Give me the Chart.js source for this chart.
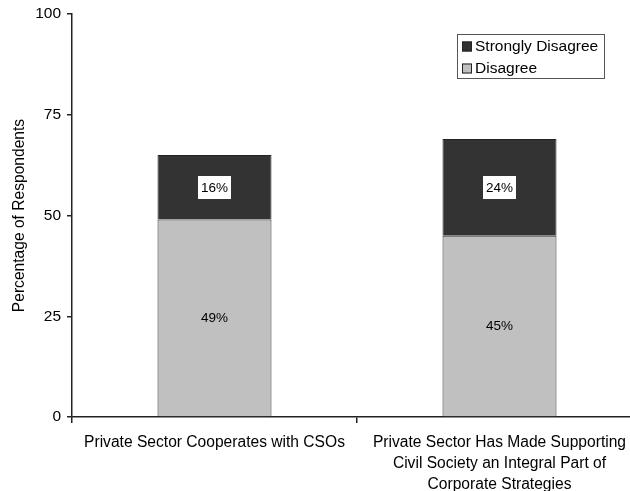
<!DOCTYPE html>
<html>
<head>
<meta charset="utf-8">
<script src="https://cdn.jsdelivr.net/npm/chart.js@4.4.1/dist/chart.umd.min.js"></script>
<style>
  html, body { margin: 0; padding: 0; background: #fff; overflow: hidden; }
  #wrap { width: 630px; height: 491px; overflow: hidden; }
  canvas { display: block; }
</style>
</head>
<body>
<div id="wrap"><canvas id="c" width="650" height="491"></canvas></div>
<script>
const categories = [
  ['Private Sector Cooperates with CSOs'],
  ['Private Sector Has Made Supporting', 'Civil Society an Integral Part of', 'Corporate Strategies']
];
const disagree = [49, 45];
const stronglyDisagree = [16, 24];
const yTicks = [0, 25, 50, 75, 100];

const FONT = "'Liberation Sans', Arial, Helvetica, sans-serif";

// Percent labels inside each stacked segment; the upper segment gets a white box
const segmentLabels = {
  id: 'segmentLabels',
  afterDatasetsDraw(chart) {
    const ctx = chart.ctx;
    ctx.save();
    ctx.font = '13.5px ' + FONT;
    ctx.textAlign = 'center';
    ctx.textBaseline = 'middle';
    chart.data.datasets.forEach((ds, di) => {
      const meta = chart.getDatasetMeta(di);
      meta.data.forEach((bar, i) => {
        const txt = ds.data[i] + '%';
        const cx = bar.x;
        const cy = (bar.y + bar.base) / 2;
        if (ds.boxedLabel) {
          const w = ctx.measureText(txt).width + 6;
          const h = 23;
          ctx.fillStyle = '#ffffff';
          ctx.fillRect(Math.round(cx - w / 2), Math.round(cy - h / 2), Math.round(w), h);
        }
        ctx.fillStyle = '#000000';
        ctx.fillText(txt, cx, cy + 0.5);
      });
    });
    ctx.restore();
  }
};

// Boxed legend in the upper right of the plot
const boxLegend = {
  id: 'boxLegend',
  afterDraw(chart) {
    const ctx = chart.ctx;
    const x0 = 457, y0 = 34, w = 147, h = 44;
    ctx.save();
    ctx.fillStyle = '#ffffff';
    ctx.fillRect(x0, y0, w, h);
    ctx.strokeStyle = '#555555';
    ctx.lineWidth = 1;
    ctx.strokeRect(x0 + 0.5, y0 + 0.5, w, h);
    const order = [1, 0];
    ctx.font = '15.5px ' + FONT;
    ctx.textBaseline = 'middle';
    ctx.textAlign = 'left';
    order.forEach((di, k) => {
      const ds = chart.data.datasets[di];
      const cy = 46.5 + k * 22;
      ctx.fillStyle = ds.backgroundColor;
      ctx.fillRect(462, cy - 5, 10, 10);
      ctx.strokeStyle = '#222222';
      ctx.strokeRect(462.5, cy - 4.5, 9, 9);
      ctx.fillStyle = '#000000';
      ctx.fillText(ds.label, 475, cy + 0.5);
    });
    ctx.restore();
  }
};

new Chart(document.getElementById('c'), {
  type: 'bar',
  data: {
    labels: categories,
    datasets: [
      {
        label: 'Disagree',
        data: disagree,
        backgroundColor: '#c0c0c0',
        borderColor: '#333333',
        borderWidth: 1,
        boxedLabel: false
      },
      {
        label: 'Strongly Disagree',
        data: stronglyDisagree,
        backgroundColor: '#333333',
        borderColor: '#222222',
        borderWidth: 1,
        boxedLabel: true
      }
    ]
  },
  options: {
    responsive: false,
    animation: false,
    events: [],
    layout: { padding: { top: 14, right: 8, left: 0, bottom: 0 } },
    datasets: { bar: { categoryPercentage: 1, barPercentage: 0.4 } },
    plugins: {
      legend: { display: false },
      tooltip: { enabled: false }
    },
    scales: {
      x: {
        stacked: true,
        offset: true,
        grid: {
          offset: true,
          drawOnChartArea: false,
          drawTicks: true,
          tickLength: 6,
          color: '#222222',
          lineWidth: 1.5
        },
        border: { display: true, color: '#222222', width: 1.5 },
        ticks: {
          color: '#000000',
          font: { family: FONT, size: 15.6, lineHeight: 1.35 },
          padding: 9,
          maxRotation: 0,
          autoSkip: false
        },
        afterFit(scale) { scale.height = 74; }
      },
      y: {
        stacked: true,
        min: 0,
        max: 100,
        afterBuildTicks(scale) { scale.ticks = yTicks.map(v => ({ value: v })); },
        grid: {
          drawOnChartArea: false,
          drawTicks: true,
          tickLength: 5,
          color: '#222222',
          lineWidth: 1.5
        },
        border: { display: true, color: '#222222', width: 1.5 },
        ticks: {
          color: '#000000',
          font: { family: FONT, size: 15.5 },
          padding: 6
        },
        title: {
          display: true,
          text: 'Percentage of Respondents',
          color: '#000000',
          font: { family: FONT, size: 15.6 },
          padding: { top: 10, bottom: 0 }
        },
        afterFit(scale) {
          scale.width = 72;
          scale.paddingTop = 0;
          scale.paddingBottom = 0;
        }
      }
    }
  },
  plugins: [segmentLabels, boxLegend]
});
</script>
</body>
</html>
